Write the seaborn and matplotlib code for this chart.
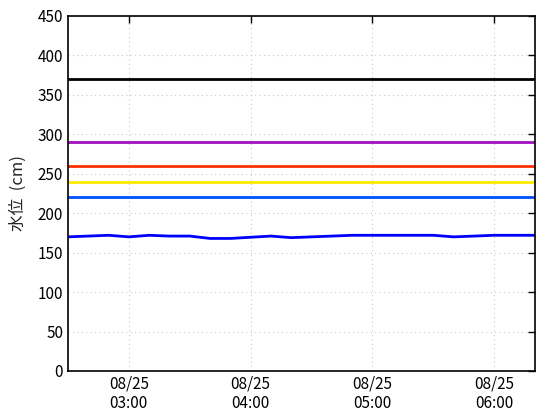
import matplotlib
matplotlib.use("Agg")
import matplotlib.pyplot as plt
import matplotlib.dates as mdates
import seaborn as sns
import pandas as pd

# water level readings, every 10 minutes from 08/25 02:30
times = pd.date_range("2024-08-25 02:30", "2024-08-25 06:20", freq="10min")
levels = [170, 171, 172, 170, 172, 171, 171, 168, 168, 169.5, 171, 169,
          170, 171, 172, 172, 172, 172, 172, 170, 171, 172, 172, 172]

# reference lines (cm)
ref_values = [370, 290, 260, 240, 220]
ref_colors = ["#000000", "#a010c0", "#ff3000", "#ffe800", "#0050ff"]

sns.set_style("white")
plt.rcParams['font.family'] = ['Noto Sans CJK JP', 'DejaVu Sans']

df = pd.DataFrame({"time": times, "level": levels})

fig = plt.figure(figsize=(5.6, 4.2), dpi=100)
ax = fig.add_axes([0.1214, 0.1167, 0.8336, 0.8453])

for v, c in zip(ref_values, ref_colors):
    ax.axhline(v, color=c, lw=2)

sns.lineplot(data=df, x="time", y="level", ax=ax, color="#0000ff", lw=2)

ax.set_xlim(times[0], times[-1])
ax.set_ylim(0, 450)
ax.set_yticks(range(0, 451, 50))
ax.xaxis.set_major_locator(mdates.HourLocator())
ax.xaxis.set_major_formatter(mdates.DateFormatter("%m/%d\n%H:%M"))
ax.grid(True, color="#c8c8c8", linestyle=(0, (1, 3)), lw=0.8)
ax.tick_params(direction="in", top=True, right=True, length=5, width=1,
               labelsize=11, colors="black")
for s in ax.spines.values():
    s.set_color("black")
    s.set_linewidth(1.2)
ax.set_xlabel("")
ax.set_ylabel("水位  (cm)", fontsize=12, labelpad=8)

plt.savefig("out.png", dpi=100)
